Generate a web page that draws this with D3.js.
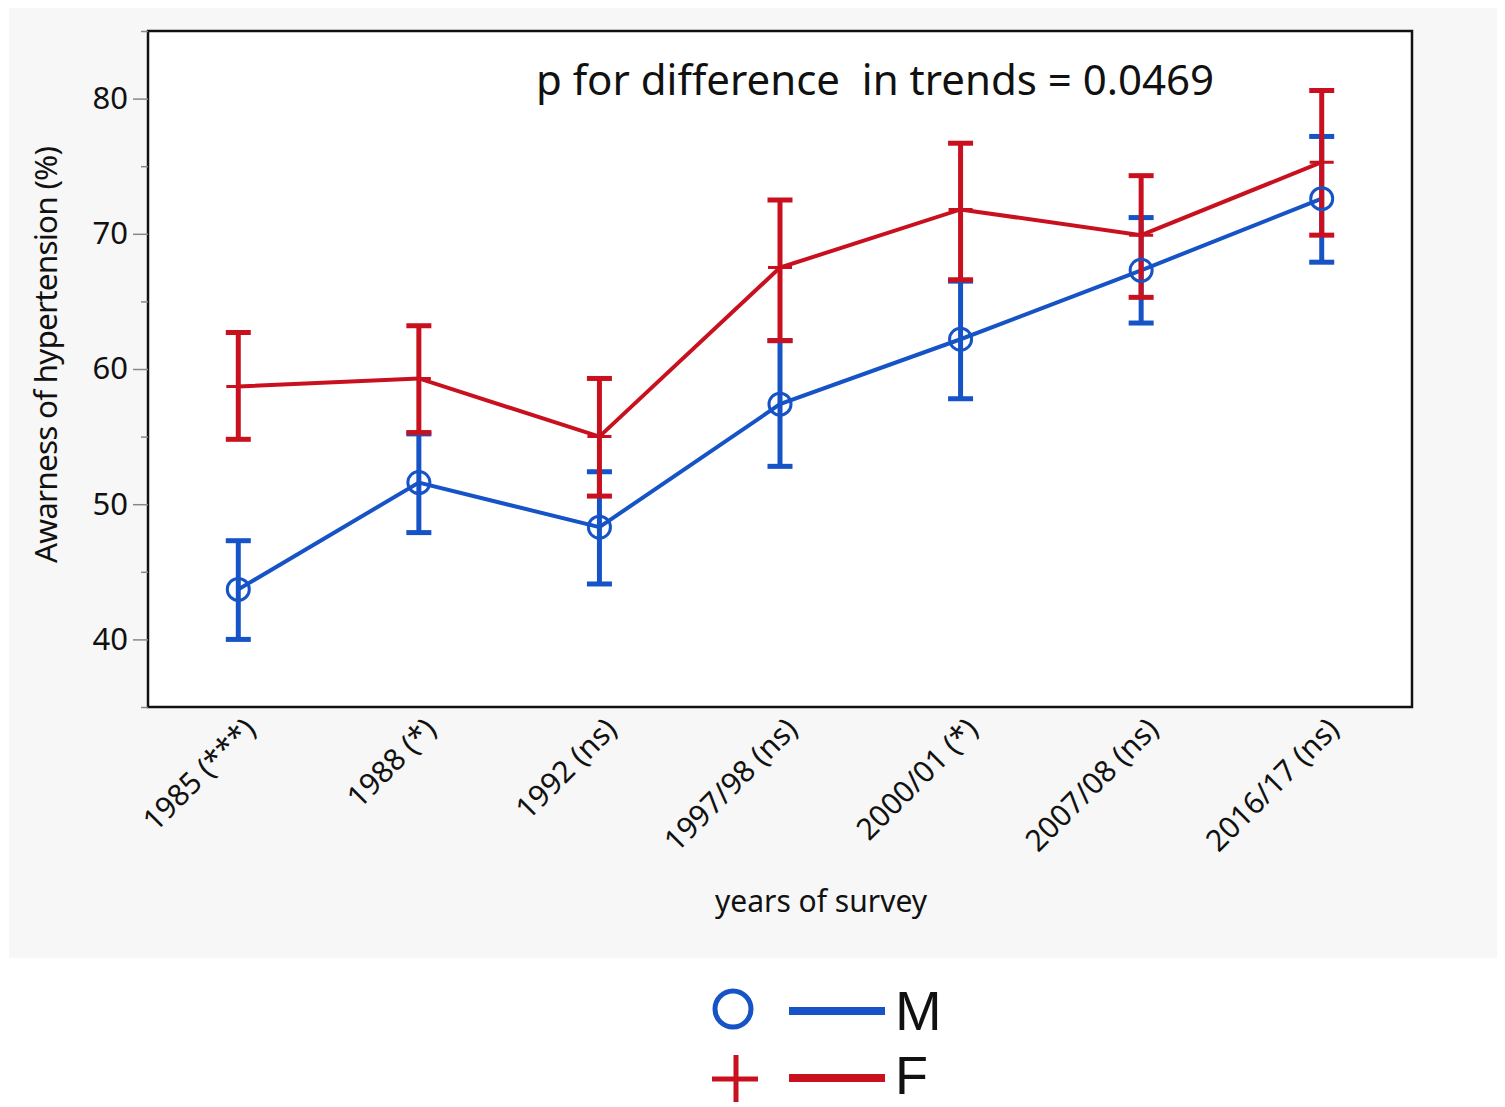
<!DOCTYPE html>
<html>
<head>
<meta charset="utf-8">
<script src="https://cdn.jsdelivr.net/npm/d3@7"></script>
<style>
  body { margin: 0; background: #fff; }
  text { font-family: "Noto Sans", "Open Sans", sans-serif; fill: #111; }
</style>
</head>
<body>
<div id="root"></div>
<script>
// survey rounds (x categories)
var years = ["1985 (***)", "1988 (*)", "1992 (ns)", "1997/98 (ns)", "2000/01 (*)", "2007/08 (ns)", "2016/17 (ns)"];

// men
var maleMean = [43.7, 51.6, 48.3, 57.4, 62.2, 67.3, 72.6];
var maleLow  = [40.0, 47.9, 44.1, 52.8, 57.8, 63.4, 67.9];
var maleHigh = [47.3, 55.2, 52.4, 62.1, 66.5, 71.2, 77.2];

// women
var femaleMean = [58.7, 59.3, 55.0, 67.5, 71.8, 69.9, 75.3];
var femaleLow  = [54.8, 55.3, 50.6, 62.1, 66.6, 65.3, 69.9];
var femaleHigh = [62.7, 63.2, 59.3, 72.5, 76.7, 74.3, 80.6];

var majorTicks = [40, 50, 60, 70, 80];
var minorTicks = [35, 45, 55, 65, 75, 85];

var blue = "#1553c6";
var red = "#c9101f";

var W = 1505, H = 1107;
var margin = { top: 31, right: 93, bottom: 400, left: 148 };
var width = W - margin.left - margin.right;
var height = H - margin.top - margin.bottom;

var svg = d3.select("#root")
    .append("svg")
    .attr("width", W)
    .attr("height", H);

// grey panel behind the plot
svg.append("rect")
    .attr("x", 9).attr("y", 8)
    .attr("width", 1488).attr("height", 950)
    .attr("fill", "#f7f7f7");

var graph = svg.append("g")
    .attr("transform", "translate(" + margin.left + "," + margin.top + ")");

var x = d3.scaleBand()
    .domain(years)
    .range([0, width]);

var y = d3.scaleLinear()
    .domain([35, 85])
    .range([height, 0]);

var cx = (d) => x(d) + x.bandwidth() / 2;

// plot frame
graph.append("rect")
    .attr("width", width)
    .attr("height", height)
    .attr("fill", "#fff")
    .attr("stroke", "#111")
    .attr("stroke-width", 2.5);

// y axis, major ticks with labels
var yAxis = graph.append("g")
    .call(d3.axisLeft(y).tickValues(majorTicks).tickSize(15).tickPadding(5));
yAxis.select(".domain").remove();
yAxis.selectAll(".tick line").attr("stroke", "#888").attr("stroke-width", 1.5);
yAxis.selectAll(".tick text")
    .style("font-size", "31px")
    .attr("fill", "#111");

// minor ticks
var yMinor = graph.append("g")
    .call(d3.axisLeft(y).tickValues(minorTicks).tickSize(7).tickFormat(""));
yMinor.select(".domain").remove();
yMinor.selectAll(".tick line").attr("stroke", "#888").attr("stroke-width", 1.5);

// x tick labels, rotated
graph.append("g")
    .selectAll("text")
    .data(years)
    .join("text")
    .attr("transform", (d) => "translate(" + (cx(d) + 19) + "," + (height + 24) + ") rotate(-45)")
    .attr("text-anchor", "end")
    .style("font-size", "30px")
    .text((d) => d);

// axis titles
svg.append("text")
    .attr("transform", "translate(57," + 355 + ") rotate(-90)")
    .attr("text-anchor", "middle")
    .style("font-size", "31.5px")
    .style("letter-spacing", "-0.8px")
    .text("Awarness of hypertension (%)");

svg.append("text")
    .attr("x", 821)
    .attr("y", 912)
    .attr("text-anchor", "middle")
    .style("font-size", "30px")
    .text("years of survey");

svg.append("text")
    .attr("x", 875)
    .attr("y", 95)
    .attr("text-anchor", "middle")
    .style("font-size", "42px")
    .style("white-space", "pre")
    .attr("xml:space", "preserve")
    .text("p for difference  in trends = 0.0469");

function series(mean, low, high, color, g)
{
    var rows = years.map((d, i) => ({ year: d, mean: mean[i], low: low[i], high: high[i] }));

    g.append("path")
        .datum(rows)
        .attr("fill", "none")
        .attr("stroke", color)
        .attr("stroke-width", 4)
        .attr("d", d3.line()
            .x((d) => cx(d.year))
            .y((d) => y(d.mean)));

    var bars = g.append("g")
        .attr("stroke", color)
        .attr("stroke-width", 5);

    bars.selectAll(".stem")
        .data(rows)
        .join("line")
        .attr("x1", (d) => cx(d.year)).attr("x2", (d) => cx(d.year))
        .attr("y1", (d) => y(d.low)).attr("y2", (d) => y(d.high));

    bars.selectAll(".capHi")
        .data(rows)
        .join("line")
        .attr("x1", (d) => cx(d.year) - 12.5).attr("x2", (d) => cx(d.year) + 12.5)
        .attr("y1", (d) => y(d.high)).attr("y2", (d) => y(d.high));

    bars.selectAll(".capLo")
        .data(rows)
        .join("line")
        .attr("x1", (d) => cx(d.year) - 12.5).attr("x2", (d) => cx(d.year) + 12.5)
        .attr("y1", (d) => y(d.low)).attr("y2", (d) => y(d.low));

    return rows;
}

var maleRows = series(maleMean, maleLow, maleHigh, blue, graph.append("g"));
var femaleRows = series(femaleMean, femaleLow, femaleHigh, red, graph.append("g"));

// markers on top
graph.append("g")
    .selectAll("circle")
    .data(maleRows)
    .join("circle")
    .attr("cx", (d) => cx(d.year))
    .attr("cy", (d) => y(d.mean))
    .attr("r", 11)
    .attr("fill", "none")
    .attr("stroke", blue)
    .attr("stroke-width", 3);

graph.append("g")
    .selectAll("path")
    .data(femaleRows)
    .join("path")
    .attr("transform", (d) => "translate(" + cx(d.year) + "," + y(d.mean) + ")")
    .attr("d", "M-12,0H12M0,-12V12")
    .attr("stroke", red)
    .attr("stroke-width", 3);

// legend
var legend = svg.append("g");

legend.append("circle")
    .attr("cx", 733).attr("cy", 1009)
    .attr("r", 18)
    .attr("fill", "none")
    .attr("stroke", blue)
    .attr("stroke-width", 5);

legend.append("line")
    .attr("x1", 789).attr("x2", 885)
    .attr("y1", 1011).attr("y2", 1011)
    .attr("stroke", blue)
    .attr("stroke-width", 8);

legend.append("text")
    .attr("x", 895).attr("y", 1030)
    .style("font-family", "'Liberation Sans', sans-serif")
    .style("font-size", "56px")
    .text("M");

legend.append("path")
    .attr("d", "M712,1079H758M736,1055V1102")
    .attr("stroke", red)
    .attr("stroke-width", 5);

legend.append("line")
    .attr("x1", 789).attr("x2", 885)
    .attr("y1", 1078).attr("y2", 1078)
    .attr("stroke", red)
    .attr("stroke-width", 8);

legend.append("text")
    .attr("x", 895).attr("y", 1094)
    .style("font-family", "'Liberation Sans', sans-serif")
    .style("font-size", "54px")
    .text("F");
</script>
</body>
</html>
